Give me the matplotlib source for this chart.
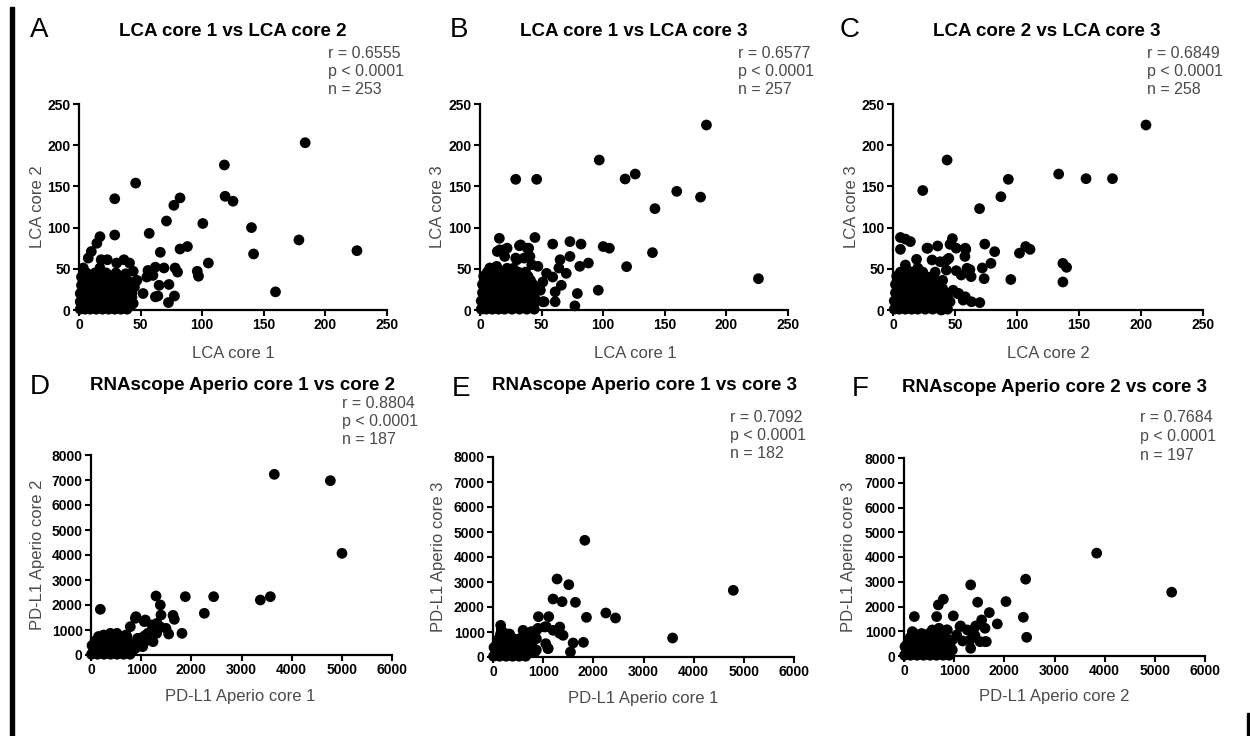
import matplotlib.pyplot as plt
from matplotlib.patches import Rectangle

plt.rcParams["font.family"] = ["Liberation Sans", "DejaVu Sans"]

W, H = 1250, 736

# ---- LCA cores (panels A-C) ----
lca_1v2 = [
    (183.6, 203), (118, 176), (118.6, 138), (125, 132), (46, 154), (29, 135), (29, 91),
    (77, 127), (82, 136), (71, 108), (100.5, 105), (140, 100), (178.5, 85), (225.6, 72),
    (141.7, 68), (159.5, 22), (57, 93), (82, 74), (88, 77), (66, 70), (105, 57), (96, 47),
    (97, 41), (69, 51), (80, 46), (78, 51), (62, 52), (64, 17), (72.6, 9), (77.5, 17),
    (73, 31), (65, 30), (52, 20), (17, 89), (14.5, 81), (10, 71), (7.5, 63), (3.5, 51),
    (17, 51), (18, 61), (23, 61), (30.6, 57), (36.5, 61), (41, 57), (38, 44), (44, 47),
    (47, 36), (55, 40), (59, 47), (60, 42), (45, 28), (43, 21), (44, 8), (62, 16), (56, 48),
    (1, 1), (5, 1), (9, 1), (14, 1), (19, 1), (24, 1), (29, 1), (34, 1), (39, 1),
    (3, 5), (7, 5), (12, 5), (17, 5), (22, 5), (27, 5), (32, 5), (37, 5), (42, 5),
    (1, 10), (5, 10), (10, 10), (15, 10), (20, 10), (25, 10), (30, 10), (35, 10), (40, 10),
    (3, 15), (8, 15), (13, 15), (18, 15), (23, 15), (28, 15), (33, 15), (38, 15), (43, 15),
    (1, 20), (6, 20), (11, 20), (16, 20), (21, 20), (26, 20), (31, 20), (36, 20), (41, 20),
    (4, 25), (9, 25), (14, 25), (19, 25), (24, 25), (29, 25), (34, 25), (39, 25),
    (2, 30), (7, 30), (12, 30), (17, 30), (22, 30), (27, 30), (32, 30), (37, 30), (42, 30),
    (5, 35), (10, 35), (15, 35), (20, 35), (25, 35), (30, 35), (35, 35), (40, 35),
    (2, 40), (8, 40), (14, 40), (20, 40), (27, 40), (33, 40),
    (6, 45), (13, 45), (22, 45), (30, 45),
]

lca_1v3 = [
    (183.8, 224.5), (96.8, 182), (29, 158.6), (46, 158.6), (117.8, 159), (126, 165),
    (159.7, 144), (179, 137), (142, 123), (140, 69.6), (119, 52.6), (226, 38), (96, 24),
    (100, 77), (105, 75), (82, 80), (73, 83), (59, 80), (44.6, 88), (15.7, 87), (32, 78),
    (22, 75), (65, 61), (73, 65), (88, 57), (81, 53), (64, 51), (70, 44.5), (59, 40),
    (54, 44.5), (51, 34), (66, 30), (61, 22), (61, 10), (51, 10), (79, 20), (77, 5),
    (44.6, 26), (47, 53), (40.5, 65), (39.5, 75), (29, 63), (20, 65), (16, 73), (8, 51),
    (13.5, 53), (38, 10), (32, 6), (19.5, 73), (14, 71), (33, 79), (38.4, 75), (30, 61),
    (35.7, 63), (42, 55), (22, 50.6), (27, 50.6), (49, 24), (52, 10),
    (1, 1), (5, 1), (10, 1), (15, 1), (20, 1), (26, 1), (32, 1), (38, 1), (44, 1),
    (3, 6), (8, 6), (13, 6), (18, 6), (24, 6), (30, 6), (36, 6), (42, 6),
    (1, 11), (6, 11), (11, 11), (16, 11), (22, 11), (28, 11), (34, 11), (40, 11), (46, 11),
    (4, 16), (9, 16), (14, 16), (20, 16), (26, 16), (32, 16), (38, 16), (44, 16),
    (2, 21), (7, 21), (12, 21), (18, 21), (24, 21), (30, 21), (36, 21), (42, 21),
    (5, 26), (10, 26), (16, 26), (22, 26), (28, 26), (34, 26), (40, 26),
    (2, 31), (8, 31), (13, 31), (19, 31), (25, 31), (31, 31), (37, 31), (43, 31),
    (5, 36), (11, 36), (17, 36), (23, 36), (29, 36), (35, 36), (41, 36),
    (3, 41), (9, 41), (15, 41), (21, 41), (27, 41), (33, 41), (39, 41),
    (6, 46), (12, 46), (18, 46), (25, 46), (31, 46), (37, 46),
]

lca_2v3 = [
    (204, 224.5), (43.6, 182), (24, 145), (69.8, 123), (93, 158.6), (87, 137.5),
    (133.6, 165), (155.7, 159.4), (177, 159.4), (6, 88), (10, 86), (14, 83), (6, 73.6),
    (19, 61.5), (28, 75), (36, 77.7), (47.9, 86.6), (46, 79.7), (51, 75), (58.7, 73.6),
    (58, 65), (45, 62.7), (62, 49), (74, 80), (82, 70.8), (79, 56.6), (72, 51), (73.5, 38),
    (95, 37), (102, 69), (107, 77), (110.5, 73.6), (137, 56.6), (140, 51.8), (137, 34),
    (70, 9), (63.3, 10), (56.6, 12), (52, 20), (48.5, 24), (43, 48.5), (51, 47.7),
    (55, 42.5), (63, 40.5), (46, 10), (39, 0), (27.4, 75), (31.5, 60.7), (38, 58.6),
    (43.5, 60.7), (58.3, 75), (59.7, 50.6), (10, 54.6), (11.3, 48.5), (53, 20), (58.3, 16),
    (1, 1), (5, 1), (10, 1), (15, 1), (20, 1), (26, 1), (32, 1), (38, 1), (44, 1),
    (3, 6), (8, 6), (13, 6), (18, 6), (24, 6), (30, 6), (36, 6), (42, 6),
    (1, 11), (6, 11), (11, 11), (16, 11), (22, 11), (28, 11), (34, 11), (40, 11),
    (4, 16), (9, 16), (14, 16), (20, 16), (26, 16), (32, 16), (38, 16), (44, 16),
    (2, 21), (7, 21), (12, 21), (18, 21), (24, 21), (30, 21), (36, 21), (42, 21),
    (5, 26), (10, 26), (16, 26), (22, 26), (28, 26), (34, 26), (40, 26),
    (2, 31), (7, 31), (12, 31), (18, 31), (24, 31), (30, 31), (36, 31),
    (5, 36), (10, 36), (16, 36), (22, 36), (28, 36), (34, 36), (40, 36),
    (3, 41), (8, 41), (14, 41), (20, 41), (26, 41), (32, 41),
    (6, 46), (15, 46), (24, 46), (34, 46), (20, 51),
]

# ---- PD-L1 RNAscope Aperio cores (panels D-F) ----
aperio_1v2 = [
    (3654, 7227), (4771, 6973), (5003, 4067), (3575, 2333), (3375, 2200), (2445, 2333),
    (2259, 1667), (1880, 2333), (1296, 2360), (1382, 2000), (1395, 1600), (1635, 1587),
    (1661, 1427), (1548, 840), (1814, 867), (186, 1827), (884, 1467), (784, 1133),
    (1083, 1400), (1216, 1200), (1316, 1267), (1050, 467), (1236, 533), (884, 267),
    (930, 667), (1130, 867), (718, 733), (518, 867), (252, 800), (319, 600), (385, 867),
    (897, 1533), (1063, 1333), (1375, 1133), (1309, 867), (1030, 333), (963, 667),
    (1063, 760), (1495, 1067), (698, 800), (830, 200), (897, 467),
    (10, 30), (130, 30), (260, 30), (390, 30), (520, 30), (650, 30), (780, 30),
    (60, 200), (190, 200), (320, 200), (450, 200), (580, 200), (710, 200), (840, 200),
    (20, 380), (140, 380), (270, 380), (400, 380), (530, 380), (660, 380), (790, 380),
    (80, 560), (210, 560), (340, 560), (470, 560), (600, 560), (730, 560),
    (150, 740), (300, 740), (450, 740), (600, 740),
]

aperio_1v3 = [
    (1830, 4667), (4790, 2667), (3580, 760), (1277, 3120), (1510, 2893), (1198, 2320),
    (1377, 2213), (1643, 2187), (2249, 1760), (2442, 1560), (1863, 1587), (905, 1613),
    (1111, 1613), (1597, 560), (1803, 587), (1544, 200), (153, 1267), (253, 933),
    (1031, 1200), (1198, 1067), (1331, 1200), (1397, 867), (1051, 533), (1098, 333),
    (865, 1067), (832, 200), (599, 1067), (732, 733), (865, 733), (166, 1080),
    (1063, 1213), (1329, 947), (864, 280), (1096, 347), (764, 1013), (897, 1147),
    (10, 30), (130, 30), (260, 30), (390, 30), (520, 30), (650, 30),
    (60, 200), (190, 200), (320, 200), (450, 200), (580, 200), (710, 200),
    (20, 380), (140, 380), (270, 380), (400, 380), (530, 380), (660, 380), (790, 380),
    (80, 560), (210, 560), (340, 560), (470, 560), (600, 560), (730, 560),
    (120, 740), (260, 740), (400, 740), (540, 740), (680, 740),
    (150, 920), (330, 920), (620, 920),
]

aperio_2v3 = [
    (3841, 4156), (5336, 2578), (2425, 3104), (2379, 1565), (2445, 756), (2033, 2200),
    (1329, 2874), (784, 2294), (684, 2065), (1468, 2173), (1701, 1754), (1860, 1296),
    (1548, 1457), (1615, 1120), (983, 1619), (651, 1592), (206, 1592), (1116, 1187),
    (1382, 1053), (1316, 648), (1169, 607), (1050, 850), (1415, 823), (1515, 580),
    (1615, 580), (1329, 310), (850, 1053), (551, 985), (750, 715), (884, 648), (518, 648),
    (698, 1120), (764, 985), (565, 1053), (864, 1053), (1129, 1214), (1262, 1053),
    (1429, 1214), (1641, 580), (963, 648), (963, 243), (166, 985),
    (10, 30), (130, 30), (260, 30), (390, 30), (520, 30), (650, 30), (780, 30), (900, 30),
    (60, 200), (190, 200), (320, 200), (450, 200), (580, 200), (710, 200), (840, 200),
    (20, 380), (140, 380), (270, 380), (400, 380), (530, 380), (660, 380), (790, 380), (920, 380),
    (80, 560), (210, 560), (340, 560), (470, 560), (600, 560), (730, 560), (860, 560),
    (120, 740), (260, 740), (400, 740), (540, 740), (680, 740), (820, 740),
    (200, 910), (350, 910), (500, 910),
]

letters = ["A", "B", "C", "D", "E", "F"]
titles = [
    "LCA core 1 vs LCA core 2",
    "LCA core 1 vs LCA core 3",
    "LCA core 2 vs LCA core 3",
    "RNAscope Aperio core 1 vs core 2",
    "RNAscope Aperio core 1 vs core 3",
    "RNAscope Aperio core 2 vs core 3",
]
x_labels = ["LCA core 1", "LCA core 1", "LCA core 2",
            "PD-L1 Aperio core 1", "PD-L1 Aperio core 1", "PD-L1 Aperio core 2"]
y_labels = ["LCA core 2", "LCA core 3", "LCA core 3",
            "PD-L1 Aperio core 2", "PD-L1 Aperio core 3", "PD-L1 Aperio core 3"]
r_values = ["0.6555", "0.6577", "0.6849", "0.8804", "0.7092", "0.7684"]
n_values = [253, 257, 258, 187, 182, 197]
lca_ticks = [0, 50, 100, 150, 200, 250]
aperio_xticks = [0, 1000, 2000, 3000, 4000, 5000, 6000]
aperio_yticks = [0, 1000, 2000, 3000, 4000, 5000, 6000, 7000, 8000]

datasets = [lca_1v2, lca_1v3, lca_2v3, aperio_1v2, aperio_1v3, aperio_2v3]

# pixel layout: axes box (left, right, top, bottom), letter, title, stats, labels
boxes = [(79, 387, 104, 310), (480, 788, 104, 310), (893, 1203, 104, 310),
         (91, 392, 455, 655), (493, 794, 457, 657), (904, 1205, 458, 656)]
letter_pos = [(30, 30), (450, 30), (840, 30), (30, 387), (452, 389), (852, 389)]
title_pos = [(233, 32), (634, 32), (1047, 32), (242, 385), (644, 385), (1055, 388)]
stats_pos = [(328, 53), (738, 53), (1147, 53), (342, 403), (730, 417), (1140, 418)]
xlab_pos = [(233, 353), (635, 353), (1048, 353), (240, 697), (643, 698), (1054, 697)]
ylab_x = [38, 438, 851, 38, 438, 849]

GREY = "#4a4a4a"

fig = plt.figure(figsize=(W / 100, H / 100), dpi=100)


def fx(px):
    return px / W


def fy(py):
    return 1 - py / H


for i, pts in enumerate(datasets):
    left, right, top, bottom = boxes[i]
    ax = fig.add_axes([fx(left), fy(bottom), (right - left) / W, (bottom - top) / H])
    xs = [p[0] for p in pts]
    ys = [p[1] for p in pts]
    ax.scatter(xs, ys, s=60, color="black", edgecolors="none", clip_on=False, zorder=3)

    if i < 3:
        ax.set_xlim(0, 250)
        ax.set_ylim(0, 250)
        ax.set_xticks(lca_ticks)
        ax.set_yticks(lca_ticks)
    else:
        ax.set_xlim(0, 6000)
        ax.set_ylim(0, 8000)
        ax.set_xticks(aperio_xticks)
        ax.set_yticks(aperio_yticks)

    for side in ["top", "right"]:
        ax.spines[side].set_visible(False)
    for side in ["left", "bottom"]:
        ax.spines[side].set_linewidth(1.6)
    ax.tick_params(direction="out", length=4, width=1.5, pad=2, labelsize=10)
    for lab in ax.get_xticklabels() + ax.get_yticklabels():
        lab.set_fontweight("bold")

    fig.text(fx(letter_pos[i][0]), fy(letter_pos[i][1]), letters[i],
             fontsize=20, ha="left", va="center")
    fig.text(fx(title_pos[i][0]), fy(title_pos[i][1]), titles[i],
             fontsize=13.5, fontweight="bold", ha="center", va="center")
    sx, sy = stats_pos[i]
    stats = [f"r = {r_values[i]}", "p < 0.0001", f"n = {n_values[i]}"]
    for k, line in enumerate(stats):
        fig.text(fx(sx), fy(sy + 18.5 * k), line, fontsize=11.5, color=GREY,
                 ha="left", va="center")
    fig.text(fx(xlab_pos[i][0]), fy(xlab_pos[i][1]), x_labels[i],
             fontsize=12, color=GREY, ha="center", va="center")
    fig.text(fx(ylab_x[i]), fy((top + bottom) / 2), y_labels[i],
             fontsize=12, color=GREY, ha="center", va="center", rotation=90)

# panel border marks
fig.add_artist(Rectangle((fx(10), 0), 4 / W, (H - 7) / H,
                         transform=fig.transFigure, color="black"))
fig.add_artist(Rectangle((fx(1247), 0), 3 / W, 23 / H,
                         transform=fig.transFigure, color="black"))

fig.savefig("out.png", dpi=100)
